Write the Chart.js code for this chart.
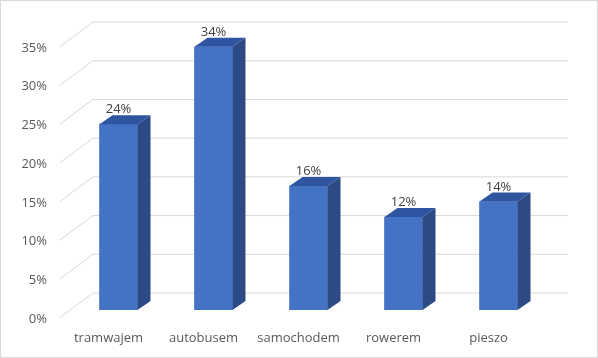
<!DOCTYPE html>
<html>
<head>
<meta charset="utf-8">
<script src="https://cdn.jsdelivr.net/npm/chart.js@4/dist/chart.umd.min.js"></script>
<style>
  html, body { margin: 0; padding: 0; background: #ffffff; }
  #wrap { width: 598px; height: 358px; position: relative; }
</style>
</head>
<body>
<div id="wrap"><canvas id="c"></canvas></div>
<script>
const categories = ['tramwajem', 'autobusem', 'samochodem', 'rowerem', 'pieszo'];
const values = [24, 34, 16, 12, 14];
const yMin = 0;
const yMax = 35;
const yStep = 5;

const DX = 13, DY = 9;
const FONT = '"Open Sans", "Liberation Sans", sans-serif';

const bar3d = {
  id: 'bar3d',
  beforeDraw(chart) {
    const ctx = chart.ctx;
    ctx.save();
    ctx.fillStyle = '#ffffff';
    ctx.fillRect(0, 0, chart.width, chart.height);
    ctx.restore();
  },
  beforeDatasetsDraw(chart) {
    const { ctx, chartArea } = chart;
    const y = chart.scales.y;
    ctx.save();
    ctx.strokeStyle = '#d9d9d9';
    ctx.lineWidth = 1;
    y.ticks.forEach(t => {
      const yb = y.getPixelForValue(t.value);
      ctx.beginPath();
      ctx.moveTo(chartArea.left - 11, yb + 7.5);
      ctx.lineTo(chartArea.left + 22, yb - 17);
      ctx.lineTo(chartArea.right + 22, yb - 17);
      ctx.stroke();
    });
    ctx.restore();
  },
  afterDatasetsDraw(chart) {
    const ctx = chart.ctx;
    const meta = chart.getDatasetMeta(0);
    ctx.save();
    meta.data.forEach((bar, i) => {
      const { x, y, base, width } = bar.getProps(['x', 'y', 'base', 'width'], true);
      const l = x - width / 2, r = x + width / 2;
      ctx.fillStyle = '#2c4a86';
      ctx.beginPath();
      ctx.moveTo(r, y);
      ctx.lineTo(r + DX, y - DY);
      ctx.lineTo(r + DX, base - DY);
      ctx.lineTo(r, base);
      ctx.closePath();
      ctx.fill();
      ctx.fillStyle = '#3055a0';
      ctx.beginPath();
      ctx.moveTo(l, y);
      ctx.lineTo(l + DX, y - DY);
      ctx.lineTo(r + DX, y - DY);
      ctx.lineTo(r, y);
      ctx.closePath();
      ctx.fill();
      ctx.fillStyle = '#404040';
      ctx.font = '13px ' + FONT;
      ctx.textAlign = 'center';
      ctx.textBaseline = 'alphabetic';
      ctx.fillText(values[i] + '%', x, y - DY - 2);
    });
    ctx.restore();
  },
  afterDraw(chart) {
    const ctx = chart.ctx;
    ctx.save();
    ctx.strokeStyle = '#d9d9d9';
    ctx.lineWidth = 1;
    ctx.strokeRect(0.5, 0.5, chart.width - 1, chart.height - 1);
    ctx.restore();
  }
};

new Chart(document.getElementById('c'), {
  type: 'bar',
  data: {
    labels: categories,
    datasets: [{
      data: values,
      backgroundColor: '#4472c4',
      borderWidth: 0,
      barThickness: 38
    }]
  },
  options: {
    responsive: true,
    maintainAspectRatio: false,
    animation: false,
    layout: { padding: { top: 39, right: 52, left: 0, bottom: 0 } },
    plugins: { legend: { display: false }, tooltip: { enabled: false } },
    scales: {
      x: {
        grid: { display: false },
        border: { display: false },
        ticks: { color: '#595959', font: { family: FONT, size: 13 }, padding: 12, labelOffset: -10, maxRotation: 0 },
        afterFit(s) { s.height = 48; }
      },
      y: {
        min: yMin, max: yMax,
        grid: { display: false },
        border: { display: false },
        ticks: { stepSize: yStep, color: '#595959', font: { family: FONT, size: 13 }, padding: 16, labelOffset: 9,
          callback: v => v + '%' },
        afterFit(s) { s.width = 71; }
      }
    }
  },
  plugins: [bar3d]
});
</script>
</body>
</html>
